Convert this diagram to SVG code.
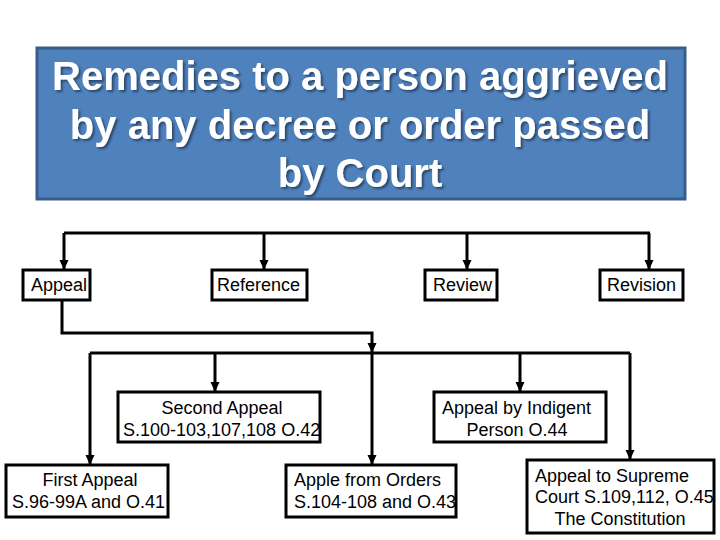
<svg xmlns="http://www.w3.org/2000/svg" width="720" height="540" viewBox="0 0 720 540">
<defs>
<marker id="arr" markerWidth="10" markerHeight="10" refX="9" refY="5" orient="auto" markerUnits="userSpaceOnUse">
<path d="M0,0.5 L10,5 L0,9.5 Z" fill="#000"/>
</marker>
<filter id="sh" x="-5%" y="-5%" width="110%" height="120%">
<feDropShadow dx="2" dy="2" stdDeviation="1" flood-color="#000" flood-opacity="0.45"/>
</filter>
</defs>
<style>
.box{fill:#fff;stroke:#000;stroke-width:3}
.t{font-family:"Liberation Sans",Arial,sans-serif;font-size:18px;fill:#000}
.c{stroke:#000;stroke-width:3;fill:none}
.title{font-family:"Liberation Sans",Arial,sans-serif;font-size:40px;font-weight:bold;fill:#fff;text-anchor:middle}
</style>
<rect width="720" height="540" fill="#fff"/>
<g id="title">
<rect x="37" y="48" width="648" height="151" fill="#4F81BD" stroke="#385D8A" stroke-width="3"/>
<g filter="url(#sh)">
<text class="title" x="360" y="90">Remedies to a person aggrieved</text>
<text class="title" x="360" y="139">by any decree or order passed</text>
<text class="title" x="360" y="187">by Court</text>
</g>
</g>
<g id="connectors">
<path class="c" d="M64,233 L650,233"/>
<path class="c" d="M64,233 L64,269" marker-end="url(#arr)"/>
<path class="c" d="M264,233 L264,269" marker-end="url(#arr)"/>
<path class="c" d="M467,233 L467,269" marker-end="url(#arr)"/>
<path class="c" d="M649,233 L649,269" marker-end="url(#arr)"/>
<path class="c" d="M62,300 L62,333 L372,333 L372,352" marker-end="url(#arr)"/>
<path class="c" d="M90,353 L630,353"/>
<path class="c" d="M90,353 L90,464" marker-end="url(#arr)"/>
<path class="c" d="M215,353 L215,391" marker-end="url(#arr)"/>
<path class="c" d="M372,353 L372,464" marker-end="url(#arr)"/>
<path class="c" d="M520,353 L520,391" marker-end="url(#arr)"/>
<path class="c" d="M630,353 L630,459" marker-end="url(#arr)"/>
</g>
<g id="appeal">
<rect class="box" x="23" y="270" width="67" height="30"/>
<text class="t" x="31" y="291">Appeal</text>
</g>
<g id="reference">
<rect class="box" x="212" y="270" width="95" height="30"/>
<text class="t" x="217" y="291">Reference</text>
</g>
<g id="review">
<rect class="box" x="425" y="270" width="72" height="30"/>
<text class="t" x="433" y="291">Review</text>
</g>
<g id="revision">
<rect class="box" x="600" y="270" width="83" height="30"/>
<text class="t" x="607" y="291">Revision</text>
</g>
<g id="second-appeal">
<rect class="box" x="118" y="392" width="202" height="50"/>
<text class="t" x="222" y="414" text-anchor="middle">Second Appeal</text>
<text class="t" x="123" y="436">S.100-103,107,108 O.42</text>
</g>
<g id="first-appeal">
<rect class="box" x="6" y="465" width="162" height="52"/>
<text class="t" x="90" y="486" text-anchor="middle">First Appeal</text>
<text class="t" x="12" y="508">S.96-99A and O.41</text>
</g>
<g id="apple-orders">
<rect class="box" x="286" y="465" width="170" height="52"/>
<text class="t" x="294" y="486">Apple from Orders</text>
<text class="t" x="294" y="508">S.104-108 and O.43</text>
</g>
<g id="indigent">
<rect class="box" x="434" y="392" width="172" height="50"/>
<text class="t" x="442" y="414">Appeal by Indigent</text>
<text class="t" x="517" y="436" text-anchor="middle">Person O.44</text>
</g>
<g id="supreme">
<rect class="box" x="527" y="460" width="187" height="73"/>
<text class="t" x="535" y="482">Appeal to Supreme</text>
<text class="t" x="535" y="503">Court S.109,112, O.45</text>
<text class="t" x="620" y="525" text-anchor="middle">The Constitution</text>
</g>
</svg>
